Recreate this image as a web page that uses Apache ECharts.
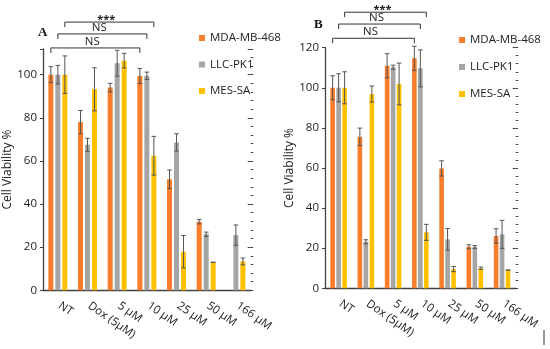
<!DOCTYPE html>
<html>
<head>
<meta charset="utf-8">
<script src="https://cdn.jsdelivr.net/npm/echarts@6/dist/echarts.min.js"></script>
<style>
html,body{margin:0;padding:0;background:#fff;}
#chart{width:550px;height:349px;}
</style>
</head>
<body>
<div id="chart"></div>
<script>
var categories = ['NT', 'Dox (5µM)', '5 µM', '10 µM', '25 µM', '50 µM', '166 µM'];
var seriesNames = ['MDA-MB-468', 'LLC-PK1', 'MES-SA'];

// Panel A
var aMDA = [100, 78, 94, 99.4, 51.5, 31.8, null];
var aMDAerr = [3.7, 5.4, 2, 3.5, 4.3, 1, null];
var aLLC = [100, 67.5, 105.3, 99.5, 68.6, 26, 25.6];
var aLLCerr = [4.3, 3, 6, 1.7, 4, 1, 4.7];
var aMES = [100, 93.2, 106.5, 62.4, 17.9, 13, 13.4];
var aMESerr = [8.7, 10, 3.4, 9, 7.5, 0, 1.6];

// Panel B
var bMDA = [100, 75.6, 111, 114.7, 59.8, 20.7, 26.1];
var bMDAerr = [6, 4.3, 6, 6, 3.8, 1, 3.6];
var bLLC = [100, 23.2, 110.3, 109.7, 24.4, 20.6, 26.9];
var bLLCerr = [7, 1, 1, 9.2, 5.4, 0.7, 7];
var bMES = [100, 96.9, 101.9, 27.9, 9.6, 10, 9.1];
var bMESerr = [8, 4, 10.4, 4, 1.3, 0.6, 0];

var yTicksA = {min: 0, max: 112, interval: 20, minor: 4};
var yTicksB = {min: 0, max: 120, interval: 20, minor: 4};

// significance brackets: [startCat, startSeries, endCat, endSeries, yValue, text]
var bracketsA = [[0, 0, 3, 0, 112.4, 'NS'], [0, 1, 3, 1, 118.9, 'NS'], [0, 2, 3, 2, 124.4, '***']];
var bracketsB = [[0, 0, 3, 0, 124.7, 'NS'], [0, 1, 3, 1, 131.8, 'NS'], [0, 2, 3, 2, 137.7, '***']];

var colors = ['#FA7D2C', '#A5A5A5', '#FFC000'];
var FONT = 'Open Sans';

var chart = echarts.init(document.getElementById('chart'), null, {renderer: 'canvas'});

function zip(vals, errs) {
  return vals.map(function (v, i) { return v == null ? null : [i, v, errs[i]]; }).filter(function (d) { return d; });
}

function errSeries(vals, errs, sIdx, xIdx, yIdx, spacing) {
  return {
    type: 'custom', xAxisIndex: xIdx, yAxisIndex: yIdx, z: 5, silent: true,
    data: zip(vals, errs),
    renderItem: function (params, api) {
      var off = (sIdx - 1) * spacing;
      var v = api.value(1), e = api.value(2);
      var top = api.coord([api.value(0), v + e]);
      var bot = api.coord([api.value(0), v - e]);
      var x = top[0] + off;
      var cap = 2.3;
      var st = {stroke: '#555', lineWidth: 1};
      return {type: 'group', children: [
        {type: 'line', shape: {x1: x, y1: top[1], x2: x, y2: bot[1]}, style: st},
        {type: 'line', shape: {x1: x - cap, y1: top[1], x2: x + cap, y2: top[1]}, style: st},
        {type: 'line', shape: {x1: x - cap, y1: bot[1], x2: x + cap, y2: bot[1]}, style: st}
      ]};
    }
  };
}

function bracketSeries(brs, xIdx, yIdx, spacing) {
  return {
    type: 'custom', xAxisIndex: xIdx, yAxisIndex: yIdx, z: 6, silent: true, clip: false,
    data: brs.map(function (b) { return [b[0], b[1], b[2], b[3], b[4]]; }),
    renderItem: function (params, api) {
      var b = brs[params.dataIndex];
      var p1 = api.coord([b[0], b[4]]);
      var p2 = api.coord([b[2], b[4]]);
      var x1 = p1[0] + (b[1] - 1) * spacing;
      var x2 = p2[0] + (b[3] - 1) * spacing;
      var y = p1[1];
      var st = {stroke: '#333', lineWidth: 1, fill: null};
      var stars = b[5] === '***';
      return {type: 'group', children: [
        {type: 'polyline', shape: {points: [[x1, y + 5], [x1, y], [x2, y], [x2, y + 5]]}, style: st},
        {type: 'text', style: {text: b[5], x: (x1 + x2) / 2 - 3, y: stars ? y + 3 : y - 0.5, textAlign: 'center', textVerticalAlign: 'bottom',
          fontFamily: FONT, fontSize: stars ? 11 : 11.5, fontWeight: stars ? 'bold' : 'normal', fill: '#222'}}
      ]};
    }
  };
}

function xAxis(gridIndex) {
  return {
    type: 'category', gridIndex: gridIndex, data: categories,
    axisLine: {lineStyle: {color: '#404040', width: 1.3}},
    axisTick: {show: false},
    axisLabel: {rotate: -35, fontFamily: FONT, fontSize: 11.5, color: '#222', margin: 13, interval: 0, padding: [0, 0, 0, 2]}
  };
}

function yAxes(gridIndex, t) {
  return [
    {type: 'value', gridIndex: gridIndex, min: t.min, max: t.max, interval: t.interval,
      name: 'Cell Viability %', nameLocation: 'middle', nameGap: 29,
      nameTextStyle: {fontFamily: FONT, fontSize: 12, color: '#222'},
      axisLine: {show: true, lineStyle: {color: '#404040', width: 1.3}},
      axisTick: {show: true, length: 3, lineStyle: {color: '#404040'}},
      axisLabel: {fontFamily: FONT, fontSize: 11.5, color: '#222', margin: 6,
        formatter: function (v) { return v % t.interval === 0 ? String(v) : ''; }},
      splitLine: {show: false}},
    {type: 'value', gridIndex: gridIndex, min: t.min, max: t.max, interval: t.minor,
      axisLine: {show: false}, axisTick: {show: true, length: 2.5, lineStyle: {color: '#404040'}},
      axisLabel: {show: false}, splitLine: {show: false}},
    {type: 'value', gridIndex: gridIndex, min: t.min, max: t.max, interval: t.interval,
      axisLine: {show: false}, axisTick: {show: true, inside: true, length: 3, lineStyle: {color: '#404040'}},
      axisLabel: {show: false}, splitLine: {show: false}}
  ];
}

function bars(vals, sIdx, xIdx, yIdx, w, gap) {
  return {
    name: seriesNames[sIdx], type: 'bar', xAxisIndex: xIdx, yAxisIndex: yIdx,
    data: vals.map(function (v) { return v == null ? '-' : v; }),
    barWidth: w, barGap: gap, itemStyle: {color: colors[sIdx]}, silent: true, animation: false
  };
}

var spA = 7, spB = 6;

var option = {
  animation: false,
  backgroundColor: '#fff',
  color: colors,
  grid: [
    {left: 43, top: 48.8, width: 207.7, height: 241.5},
    {left: 325, top: 47.7, width: 190.7, height: 240.6}
  ],
  legend: [
    {data: seriesNames, orient: 'vertical', left: 194, top: 27, itemWidth: 6, itemHeight: 6, itemGap: 14.5,
      icon: 'rect', selectedMode: false, textStyle: {fontFamily: FONT, fontSize: 11.5, color: '#222', lineHeight: 12}},
    {data: seriesNames, orient: 'vertical', left: 454, top: 29, itemWidth: 6, itemHeight: 6, itemGap: 15,
      icon: 'rect', selectedMode: false, textStyle: {fontFamily: FONT, fontSize: 11.5, color: '#222', lineHeight: 12}}
  ],
  xAxis: [xAxis(0), xAxis(1)],
  yAxis: yAxes(0, yTicksA).concat(yAxes(1, yTicksB)),
  series: [
    bars(aMDA, 0, 0, 0, 5, '40%'),
    bars(aLLC, 1, 0, 0, 5, '40%'),
    bars(aMES, 2, 0, 0, 5, '40%'),
    bars(bMDA, 0, 1, 3, 4.6, '30%'),
    bars(bLLC, 1, 1, 3, 4.6, '30%'),
    bars(bMES, 2, 1, 3, 4.6, '30%'),
    errSeries(aMDA, aMDAerr, 0, 0, 0, spA),
    errSeries(aLLC, aLLCerr, 1, 0, 0, spA),
    errSeries(aMES, aMESerr, 2, 0, 0, spA),
    errSeries(bMDA, bMDAerr, 0, 1, 3, spB),
    errSeries(bLLC, bLLCerr, 1, 1, 3, spB),
    errSeries(bMES, bMESerr, 2, 1, 3, spB),
    bracketSeries(bracketsA, 0, 0, spA),
    bracketSeries(bracketsB, 1, 3, spB)
  ],
  graphic: [
    {type: 'text', left: 38, top: 26, style: {text: 'A', fontFamily: 'Liberation Serif', fontWeight: 'bold', fontSize: 13, fill: '#111'}},
    {type: 'text', left: 314, top: 18, style: {text: 'B', fontFamily: 'Liberation Serif', fontWeight: 'bold', fontSize: 13, fill: '#111'}},
    {type: 'line', shape: {x1: 544, y1: 330, x2: 544, y2: 345}, style: {stroke: '#333', lineWidth: 1}}
  ]
};
chart.setOption(option);
</script>
</body>
</html>
